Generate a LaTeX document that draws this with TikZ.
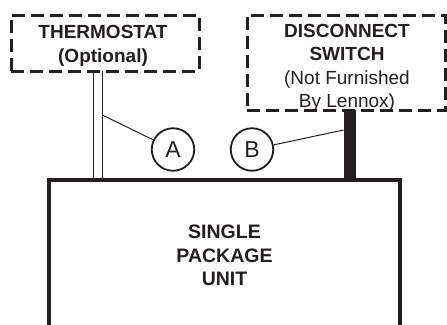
\documentclass[tikz,border=0pt]{standalone}
\usepackage{fontspec}
\setmainfont{Liberation Sans}
\usetikzlibrary{positioning}
\definecolor{ink}{HTML}{231F20}

\begin{document}
\begin{tikzpicture}[x=1pt, y=-1pt,
    dashbox/.style={rectangle, draw=ink, line width=3pt, dash pattern=on 13pt off 6pt, outer sep=0pt},
    lbl/.style={text=ink, align=center, inner sep=0pt, anchor=north, font=\fontsize{19}{23.5}\selectfont},
    tag/.style={circle, draw=ink, line width=1.8pt, minimum size=42.5pt, inner sep=0pt, text=ink, font=\fontsize{23}{27}\selectfont},
    wire/.style={ink, line width=1.2pt},
    leader/.style={ink, line width=1pt}
]
    \useasboundingbox (0,0) rectangle (447,324);

    % Thermostat box
    \node[dashbox, minimum width=188pt, minimum height=56pt] (therm) at (105,43) {};
    \node[lbl, font=\bfseries\fontsize{19}{24.5}\selectfont] (thermText) at (103,25) {THERMOSTAT\\(Optional)};

    % Disconnect switch box
    \node[dashbox, minimum width=198.5pt, minimum height=95pt] (disc) at (346.25,62.5) {};
    \node[lbl] (discText) at (347,24) {\textbf{DISCONNECT}\\\textbf{SWITCH}\\(Not Furnished\\By Lennox)};

    % Unit, open at the bottom
    \coordinate (unitNW) at (49.3,179.5);
    \coordinate (unitNE) at (399.7,179.5);
    \draw[ink, line width=4pt] (unitNW |- 0,326) -- (unitNW) -- (unitNE) -- (unitNE |- 0,326);
    \node[lbl, font=\bfseries\fontsize{19.5}{23.2}\selectfont] (unitText) at (224.5,225) {SINGLE\\PACKAGE\\UNIT};

    % Wiring
    \draw[wire] (93.5,0 |- therm.south) -- (93.5,0 |- unitNW);
    \draw[wire] (102.3,0 |- therm.south) -- (102.3,0 |- unitNW);
    \draw[ink, line width=12pt] (349.5,0 |- disc.south) -- (349.5,0 |- unitNW);

    % Callouts
    \node[tag] (A) at (173,149.5) {A};
    \node[tag] (B) at (252,149.5) {B};
    \coordinate (tapA) at (102.3,115);
    \coordinate (tapB) at (343.5,130);
    \draw[leader] (tapA) -- (A);
    \draw[leader] (B) -- (tapB);

\end{tikzpicture}
\end{document}
